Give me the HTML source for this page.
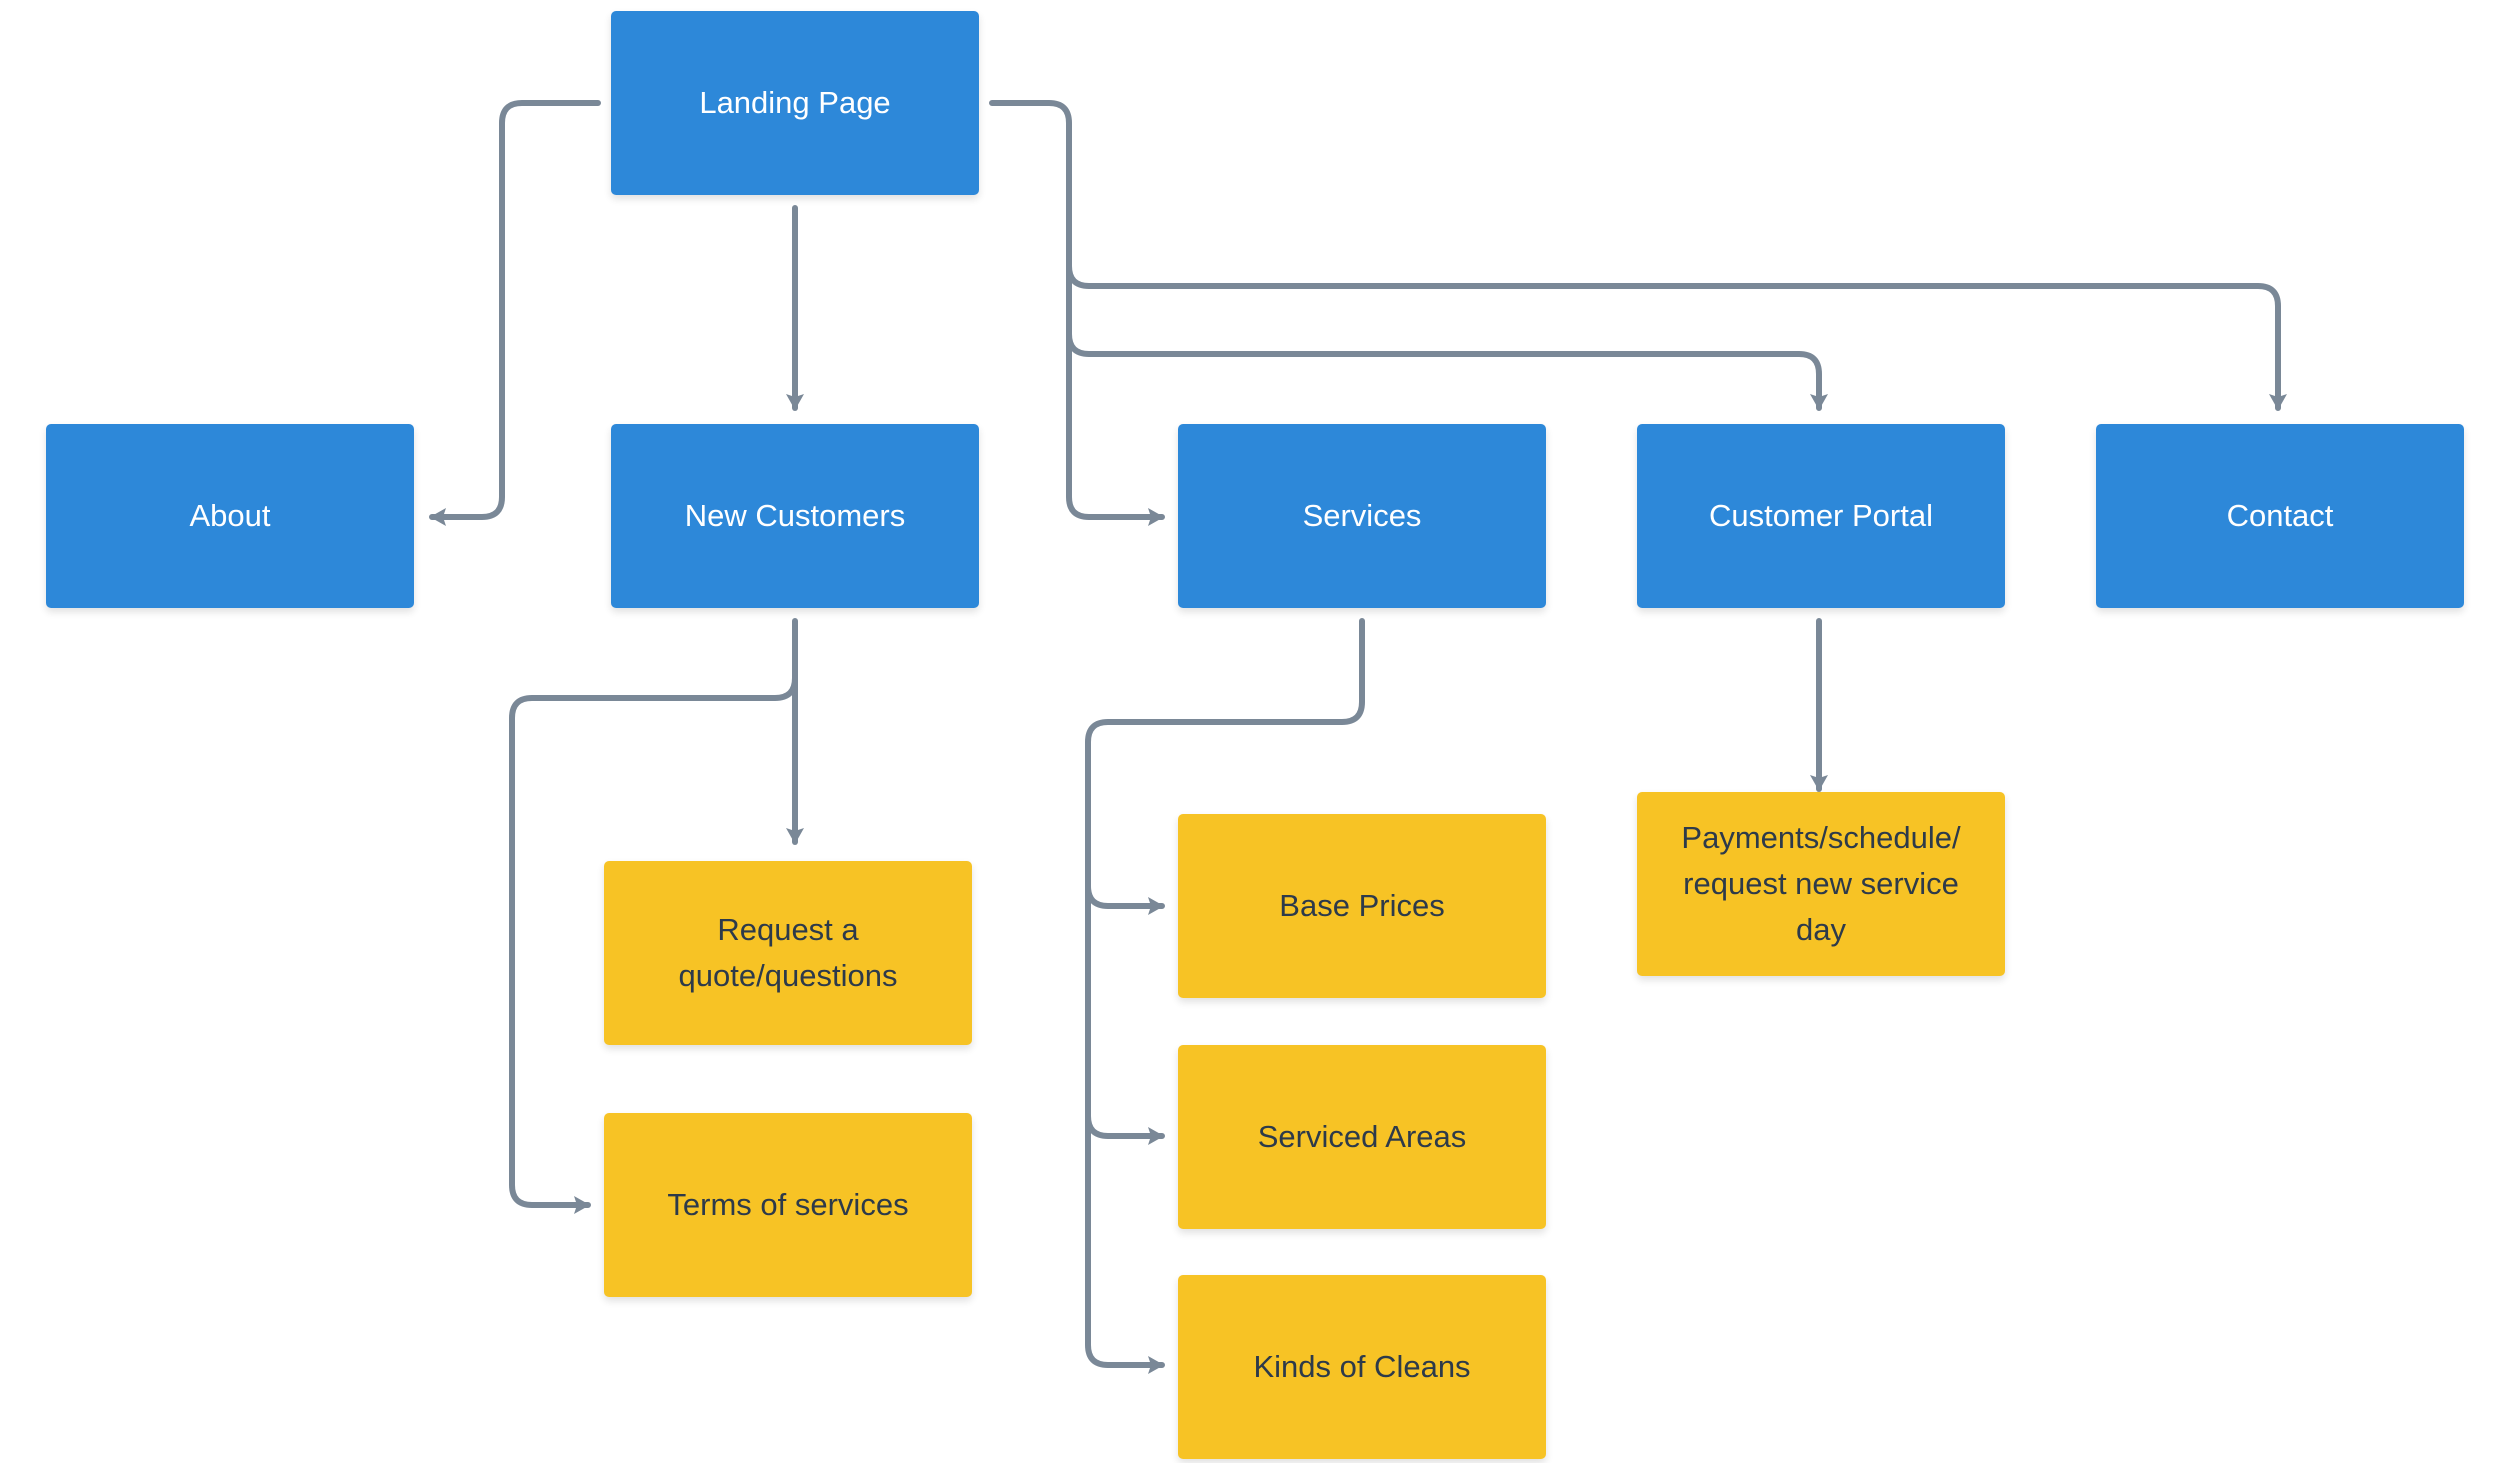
<!DOCTYPE html>
<html><head><meta charset="utf-8"><style>
body{margin:0;width:2500px;height:1463px;background:#fff;position:relative;overflow:hidden;font-family:"Liberation Sans",sans-serif}
.b{position:absolute;width:368px;height:184px;border-radius:5px;display:flex;align-items:center;justify-content:center;text-align:center;font-size:31px;line-height:46px;box-shadow:0 4px 8px rgba(0,0,0,0.12)}
.bl{background:#2d88d9;color:#fff}
.y{background:#f7c325;color:#2d3a4a}
svg{position:absolute;left:0;top:0}
</style></head><body>
<svg width="2500" height="1463">
<defs><marker id="a" markerUnits="userSpaceOnUse" markerWidth="20" markerHeight="20" refX="14" refY="9" orient="auto"><path d="M0,0 L16,9 L0,18 L3,9 Z" fill="#7a8897"/></marker></defs>
<g fill="none" stroke="#7a8897" stroke-width="6" stroke-linecap="round">
<path d="M598 103 H522 Q502 103 502 123 V497 Q502 517 482 517 H432" marker-end="url(#a)"/>
<path d="M992 103 H1049 Q1069 103 1069 123 V497 Q1069 517 1089 517 H1162" marker-end="url(#a)"/>
<path d="M1069 266 Q1069 286 1089 286 H2258 Q2278 286 2278 306 V408" marker-end="url(#a)"/>
<path d="M1069 334 Q1069 354 1089 354 H1799 Q1819 354 1819 374 V408" marker-end="url(#a)"/>
<path d="M795 208 V408" marker-end="url(#a)"/>
<path d="M795 621 V842" marker-end="url(#a)"/>
<path d="M795 678 Q795 698 775 698 H532 Q512 698 512 718 V1185 Q512 1205 532 1205 H588" marker-end="url(#a)"/>
<path d="M1362 621 V702 Q1362 722 1342 722 H1108 Q1088 722 1088 742 V1345 Q1088 1365 1108 1365 H1162" marker-end="url(#a)"/>
<path d="M1088 886 Q1088 906 1108 906 H1162" marker-end="url(#a)"/>
<path d="M1088 1116 Q1088 1136 1108 1136 H1162" marker-end="url(#a)"/>
<path d="M1819 621 V789" marker-end="url(#a)"/>
</g></svg>
<div class="b bl" style="left:611px;top:11px">Landing Page</div>
<div class="b bl" style="left:46px;top:424px">About</div>
<div class="b bl" style="left:611px;top:424px">New Customers</div>
<div class="b bl" style="left:1178px;top:424px">Services</div>
<div class="b bl" style="left:1637px;top:424px">Customer Portal</div>
<div class="b bl" style="left:2096px;top:424px">Contact</div>
<div class="b y" style="left:604px;top:861px">Request a<br>quote/questions</div>
<div class="b y" style="left:604px;top:1113px">Terms of services</div>
<div class="b y" style="left:1178px;top:814px">Base Prices</div>
<div class="b y" style="left:1178px;top:1045px">Serviced Areas</div>
<div class="b y" style="left:1178px;top:1275px">Kinds of Cleans</div>
<div class="b y" style="left:1637px;top:792px">Payments/schedule/<br>request new service<br>day</div>
</body></html>
